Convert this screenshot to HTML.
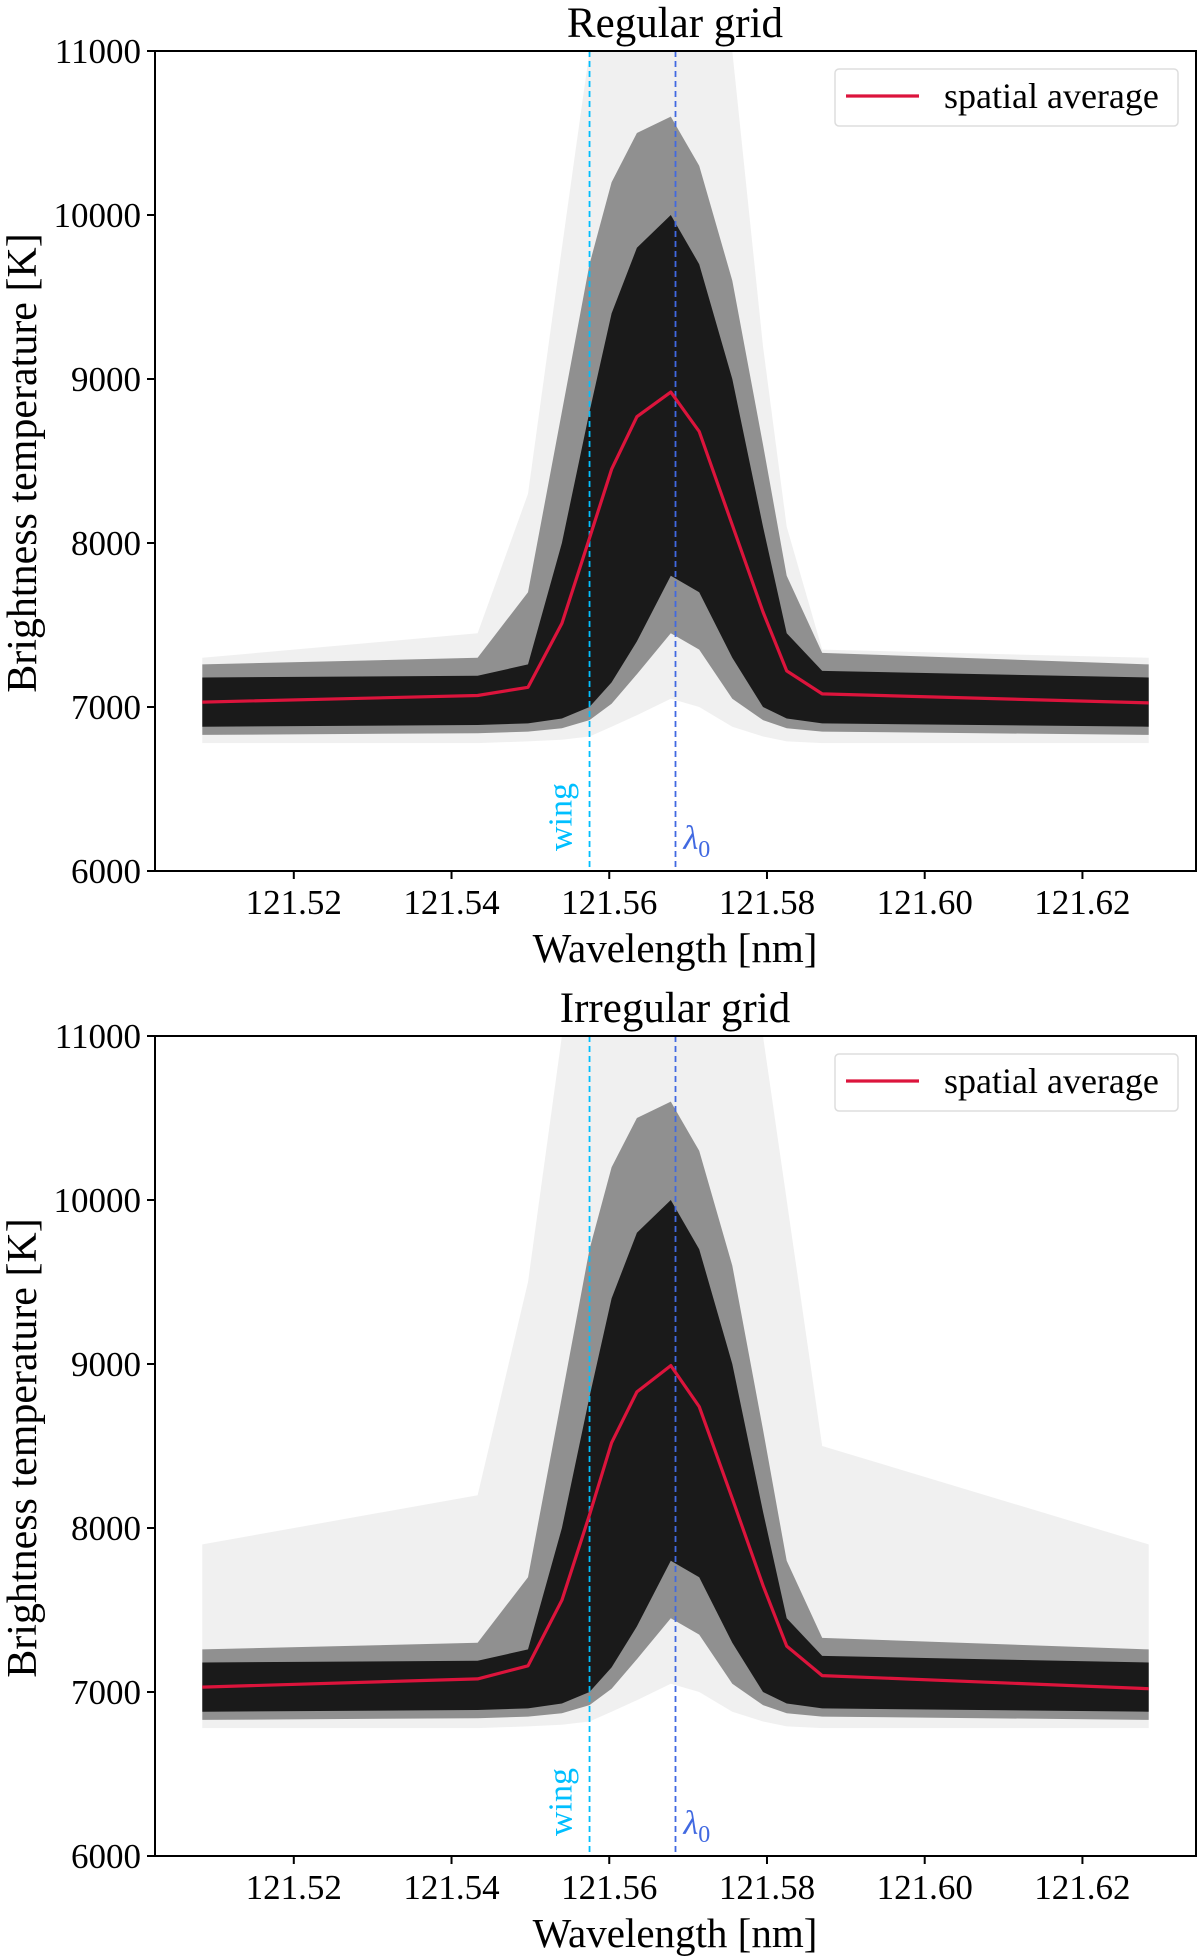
<!DOCTYPE html>
<html><head><meta charset="utf-8"><style>
html,body{margin:0;padding:0;background:#fff;}
svg{display:block;font-family:"Liberation Serif","DejaVu Serif",serif;}
</style></head><body>
<svg id="chart" width="1200" height="1956" viewBox="0 0 1200 1956" xmlns="http://www.w3.org/2000/svg"></svg>
<script>
// ---- data ----
const wavelengths = [121.5084,121.5433,121.5497,121.5540,121.5575,121.5603,121.5635,121.5678,121.5714,121.5756,121.5795,121.5825,121.5870,121.6284];
const meanRegular = [7030,7070,7120,7510,8030,8450,8770,8920,8680,8110,7580,7220,7080,7025];
const meanIrregular = [7030,7080,7160,7560,8080,8520,8830,8990,8740,8180,7650,7280,7100,7020];
const darkLo = [6880,6890,6900,6930,7000,7150,7400,7800,7700,7300,7000,6930,6900,6880];
const darkHi = [7180,7190,7260,8000,8800,9400,9800,10000,9700,9000,8100,7450,7220,7180];
const midLo = [6830,6840,6850,6870,6920,7020,7200,7450,7350,7050,6920,6870,6850,6830];
const midHi = [7260,7300,7700,8800,9700,10200,10500,10600,10300,9600,8600,7800,7330,7260];
const outerLo = [6780,6780,6790,6800,6820,6880,6950,7050,7000,6880,6820,6790,6780,6780];
const outerHiRegular = [7300,7450,8300,9800,11000,11000,11000,11000,11000,11000,9200,8100,7350,7300];
const outerHiIrregular = [7900,8200,9500,11000,11000,11000,11000,11000,11000,11000,11000,10000,8500,7900];
const xTicks = [121.52,121.54,121.56,121.58,121.60,121.62];
const xTickLabels = ["121.52","121.54","121.56","121.58","121.60","121.62"];
const yTicks = [6000,7000,8000,9000,10000,11000];
const wingLambda = 121.5575;
const lambda0 = 121.5684;

const NS = "http://www.w3.org/2000/svg";
const svg = document.getElementById('chart');
const L = 155, R = 1196, H = 820;
const xMin = 121.5024, xMax = 121.6344, yMin = 6000, yMax = 11000;
function xs(v){ return L + (v - xMin) / (xMax - xMin) * (R - L); }
function mk(tag, attrs, parent){ const e = document.createElementNS(NS, tag); for (const k in attrs) e.setAttribute(k, attrs[k]); (parent||svg).appendChild(e); return e; }

function panel(top, title, meanArr, outerHi, idx){
  const ys = v => top + H - (v - yMin) / (yMax - yMin) * H;
  const g = mk('g', {});
  
  
  const clipId = 'clip' + idx;
  const cp = mk('clipPath', {id: clipId}, g);
  mk('rect', {x: L, y: top, width: R - L, height: H}, cp);
  const bands = mk('g', {'clip-path': 'url(#' + clipId + ')'}, g);
  function band(lo, hi, fill, op, name){
    let d = '';
    wavelengths.forEach((w,i)=>{ d += (i?'L':'M') + xs(w).toFixed(1) + ',' + ys(hi[i]).toFixed(1); });
    for (let i = wavelengths.length - 1; i >= 0; i--) d += 'L' + xs(wavelengths[i]).toFixed(1) + ',' + ys(lo[i]).toFixed(1);
    const p = mk('path', {d: d + 'Z', fill: fill, 'fill-opacity': op}, bands);
    
    
  }
  band(outerLo, outerHi, '#000', 0.06, 'spectra-outer-envelope');
  band(midLo, midHi, '#000', 0.4, 'spectra-mid-envelope');
  band(darkLo, darkHi, '#000', 0.82, 'spectra-core-envelope');
  const wl = mk('line', {x1: xs(wingLambda), x2: xs(wingLambda), y1: top, y2: top + H, stroke: '#00bfff', 'stroke-width': 1.8, 'stroke-dasharray': '6,4'}, g);
  
  
  const ll = mk('line', {x1: xs(lambda0), x2: xs(lambda0), y1: top, y2: top + H, stroke: '#4169e1', 'stroke-width': 1.8, 'stroke-dasharray': '6,4'}, g);
  
  
  const wt = mk('text', {x: 0, y: 0, fill: '#00bfff', 'font-size': 34, transform: 'translate(' + (xs(wingLambda) - 18) + ',' + (top + H - 20) + ') rotate(-90)'}, g);
  wt.textContent = 'wing';
  
  
  const lt = mk('text', {x: xs(lambda0) + 8, y: top + H - 22, fill: '#4169e1', 'font-size': 34, 'font-style': 'italic'}, g);
  lt.textContent = 'λ';
  const sub = mk('tspan', {'font-size': 24, dy: 8, 'font-style': 'normal'}, lt);
  sub.textContent = '0';
  
  
  let d = '';
  wavelengths.forEach((w,i)=>{ d += (i?'L':'M') + xs(w).toFixed(1) + ',' + ys(meanArr[i]).toFixed(1); });
  const ml = mk('path', {d: d, fill: 'none', stroke: '#dc143c', 'stroke-width': 3.2, 'stroke-linejoin': 'round'}, g);
  
  
  const fr = mk('rect', {x: L, y: top, width: R - L, height: H, fill: 'none', stroke: '#000', 'stroke-width': 2}, g);
  
  
  xTicks.forEach((t,i)=>{
    mk('line', {x1: xs(t), x2: xs(t), y1: top + H, y2: top + H + 8, stroke: '#000', 'stroke-width': 2}, g);
    const tx = mk('text', {x: xs(t), y: top + H + 43, 'font-size': 35, 'text-anchor': 'middle'}, g);
    tx.textContent = xTickLabels[i];
    
    
  });
  yTicks.forEach(t=>{
    mk('line', {x1: L - 8, x2: L, y1: ys(t), y2: ys(t), stroke: '#000', 'stroke-width': 2}, g);
    const tx = mk('text', {x: L - 14, y: ys(t) + 12, 'font-size': 35, 'text-anchor': 'end'}, g);
    tx.textContent = String(t);
    
    
  });
  const xl = mk('text', {x: 675, y: top + H + 91, 'font-size': 41, 'text-anchor': 'middle'}, g);
  xl.textContent = 'Wavelength [nm]';
  
  
  const yl = mk('text', {x: 0, y: 0, 'font-size': 42, 'text-anchor': 'middle', transform: 'translate(36,' + (top + H / 2 + 2) + ') rotate(-90)'}, g);
  yl.textContent = 'Brightness temperature [K]';
  
  
  const tt = mk('text', {x: 675, y: top - 14, 'font-size': 43, 'text-anchor': 'middle'}, g);
  tt.textContent = title;
  
  
  const lg = mk('g', {}, g);
  
  
  mk('rect', {x: 835, y: top + 18, width: 343, height: 57, rx: 4, fill: '#fff', 'fill-opacity': 0.85, stroke: '#ddd', 'stroke-width': 1.5}, lg);
  mk('line', {x1: 846, x2: 919, y1: top + 45, y2: top + 45, stroke: '#dc143c', 'stroke-width': 3.2}, lg);
  const lgt = mk('text', {x: 944, y: top + 57, 'font-size': 36}, lg);
  lgt.textContent = 'spatial average';
  
  
}
panel(51, 'Regular grid', meanRegular, outerHiRegular, 1);
panel(1036, 'Irregular grid', meanIrregular, outerHiIrregular, 2);
</script>
</body></html>
